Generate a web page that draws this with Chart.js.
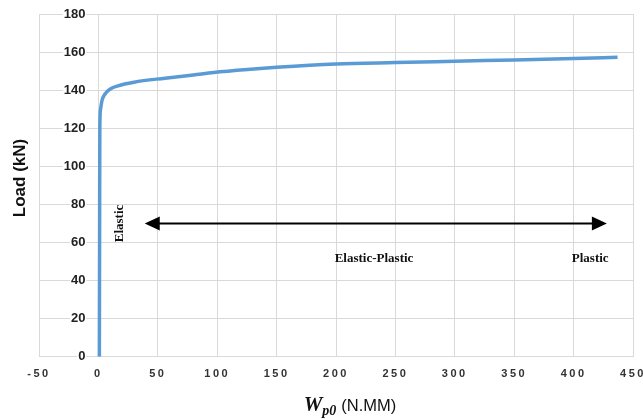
<!DOCTYPE html>
<html>
<head>
<meta charset="utf-8">
<script src="https://cdn.jsdelivr.net/npm/chart.js@4.4.1/dist/chart.umd.min.js"></script>
<style>
  html, body { margin: 0; padding: 0; background: #fff; }
  #wrap { width: 643px; height: 419px; position: relative; }
</style>
</head>
<body>
<div id="wrap"><canvas id="loadCurve"></canvas></div>
<script>
// Load vs. plastic work curve
const workValues = [0.8, 1, 1.2, 1.8, 3, 5.6, 10, 16.5, 30, 56, 80, 97, 128, 150, 200, 250, 300, 350, 400, 437];
const loadValues = [0, 60, 120, 130, 134.5, 138, 140.6, 142.3, 144.2, 146.3, 148, 149.3, 151, 152, 153.7, 154.5, 155.2, 155.9, 156.6, 157.3];

const xTicks = [-50, 0, 50, 100, 150, 200, 250, 300, 350, 400, 450];
const yTicks = [0, 20, 40, 60, 80, 100, 120, 140, 160, 180];

// stage arrow spans these work values at this load level
const arrowFrom = 39;
const arrowTo = 428;
const arrowLoad = 70;

const stageNames = ['Elastic', 'Elastic-Plastic', 'Plastic'];
const stageX = [18, 232, 414];
const stageY = [70, 51.5, 51.5];

const annotations = {
  id: 'annotations',
  afterDatasetsDraw(chart) {
    const { ctx, scales: { x, y } } = chart;
    ctx.save();

    // double-headed arrow
    const ax0 = x.getPixelForValue(arrowFrom);
    const ax1 = x.getPixelForValue(arrowTo);
    const ay = y.getPixelForValue(arrowLoad);
    const head = 15, half = 7;
    ctx.strokeStyle = '#000';
    ctx.fillStyle = '#000';
    ctx.lineWidth = 2.2;
    ctx.beginPath();
    ctx.moveTo(ax0 + head - 2, ay);
    ctx.lineTo(ax1 - head + 2, ay);
    ctx.stroke();
    ctx.beginPath();
    ctx.moveTo(ax0, ay);
    ctx.lineTo(ax0 + head, ay - half);
    ctx.lineTo(ax0 + head, ay + half);
    ctx.closePath();
    ctx.fill();
    ctx.beginPath();
    ctx.moveTo(ax1, ay);
    ctx.lineTo(ax1 - head, ay - half);
    ctx.lineTo(ax1 - head, ay + half);
    ctx.closePath();
    ctx.fill();

    // stage labels
    ctx.font = 'bold 13px "Liberation Serif", "DejaVu Serif", serif';
    ctx.fillStyle = '#111';
    ctx.textAlign = 'center';
    ctx.textBaseline = 'middle';
    stageNames.forEach((name, i) => {
      const px = x.getPixelForValue(stageX[i]);
      const py = y.getPixelForValue(stageY[i]);
      if (i === 0) {
        ctx.save();
        ctx.translate(px, py);
        ctx.rotate(-Math.PI / 2);
        ctx.fillText(name, 0, 0);
        ctx.restore();
      } else {
        ctx.fillText(name, px, py);
      }
    });

    // axis titles
    ctx.fillStyle = '#111';
    ctx.save();
    ctx.translate(20, 178);
    ctx.rotate(-Math.PI / 2);
    ctx.font = 'bold 17px "Liberation Sans", Arial, sans-serif';
    ctx.fillText('Load (kN)', 0, 0);
    ctx.restore();

    const baseY = 411;
    ctx.textAlign = 'left';
    ctx.textBaseline = 'alphabetic';
    const wFont = 'bold italic 21px "Liberation Serif", "DejaVu Serif", serif';
    const subFont = 'bold italic 14px "Liberation Serif", "DejaVu Serif", serif';
    const unitFont = '16.5px "Liberation Sans", Arial, sans-serif';
    ctx.font = wFont;
    const wW = ctx.measureText('W').width;
    ctx.font = subFont;
    const subW = ctx.measureText('p0').width;
    ctx.font = unitFont;
    const unitW = ctx.measureText('(N.MM)').width;
    let tx = 350 - (wW + subW + 5 + unitW) / 2;
    ctx.font = wFont;
    ctx.fillText('W', tx, baseY);
    tx += wW;
    ctx.font = subFont;
    ctx.fillText('p0', tx, baseY + 4);
    tx += subW + 5;
    ctx.font = unitFont;
    ctx.fillText('(N.MM)', tx, baseY);

    ctx.restore();
  }
};

// spaced-out digits on the horizontal axis, value labels left of the x = 0 line
const tickTweaks = {
  id: 'tickTweaks',
  afterUpdate(chart) {
    const sx = chart.scales.x;
    if (!sx._tweaked) {
      const origX = sx.drawLabels;
      sx.drawLabels = function (area) {
        this.ctx.save();
        this.ctx.letterSpacing = '2.5px';
        origX.call(this, area);
        this.ctx.restore();
      };
      sx._tweaked = true;
    }
    const sy = chart.scales.y;
    if (!sy._tweaked) {
      const origY = sy.drawLabels;
      sy.drawLabels = function (area) {
        this.ctx.save();
        this.ctx.translate(-13, 0);
        origY.call(this, area);
        this.ctx.restore();
      };
      sy._tweaked = true;
    }
  }
};

new Chart(document.getElementById('loadCurve'), {
  type: 'line',
  data: {
    datasets: [{
      data: workValues.map((w, i) => ({ x: w, y: loadValues[i] })),
      borderColor: '#5b9bd5',
      borderWidth: 3.5,
      pointRadius: 0,
      fill: false,
      cubicInterpolationMode: 'monotone',
    }],
  },
  options: {
    responsive: true,
    maintainAspectRatio: false,
    animation: false,
    layout: { padding: { left: 39, top: 14, right: 10, bottom: 27 } },
    plugins: { legend: { display: false }, tooltip: { enabled: false } },
    scales: {
      x: {
        type: 'linear',
        min: -50,
        max: 450,
        afterBuildTicks: (s) => { s.ticks = xTicks.map(v => ({ value: v })); },
        afterFit: (s) => { s.paddingLeft = 0; s.paddingRight = 0; },
        grid: { color: '#d9d9d9', lineWidth: 1, drawTicks: false },
        border: { display: false },
        ticks: {
          padding: 11,
          autoSkip: false,
          maxRotation: 0,
          color: '#333',
          font: { family: '"Liberation Sans", Arial, sans-serif', size: 11, weight: 'bold' },
        },
      },
      y: {
        type: 'linear',
        position: { x: 0 },
        min: 0,
        max: 180,
        afterBuildTicks: (s) => { s.ticks = yTicks.map(v => ({ value: v })); },
        grid: { color: '#d9d9d9', lineWidth: 1, drawTicks: false },
        border: { display: false },
        ticks: {
          padding: 2,
          color: '#222',
          showLabelBackdrop: true,
          backdropColor: '#fff',
          backdropPadding: 1,
          font: { family: '"Liberation Sans", Arial, sans-serif', size: 13, weight: 'bold' },
        },
      },
    },
  },
  plugins: [annotations, tickTweaks],
});
</script>
</body>
</html>
